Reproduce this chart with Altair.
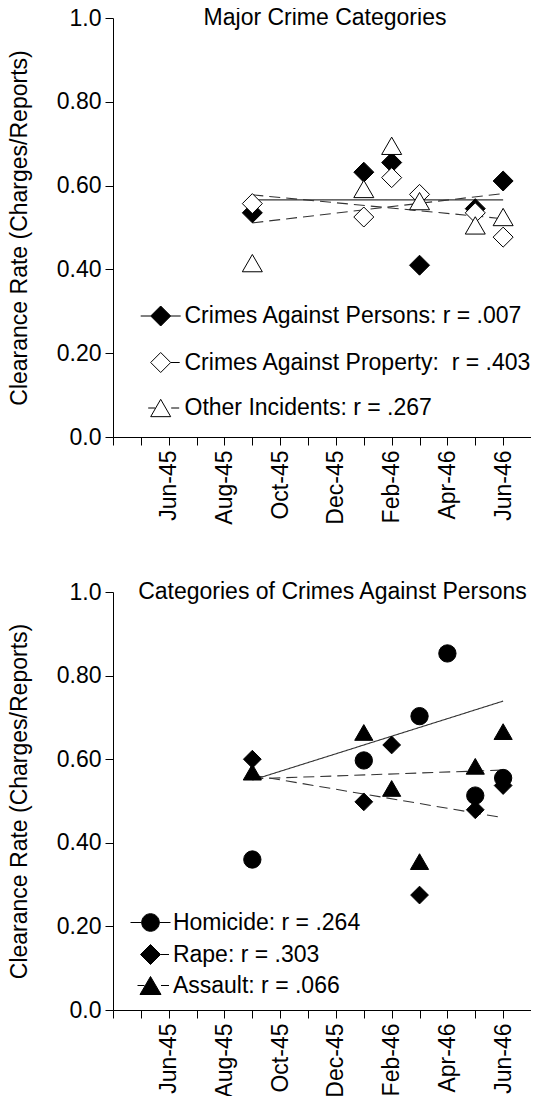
import altair as alt
import pandas as pd

FONT = "Liberation Sans"
FS = 23

# ---------------- axis categories ----------------
axis_months = ["Apr-45", "May-45", "Jun-45", "Jul-45", "Aug-45", "Sep-45", "Oct-45",
               "Nov-45", "Dec-45", "Jan-46", "Feb-46", "Mar-46", "Apr-46", "May-46",
               "Jun-46", "Jul-46"]
labeled_months = ["Jun-45", "Aug-45", "Oct-45", "Dec-45", "Feb-46", "Apr-46", "Jun-46"]
y_ticks = [0.0, 0.2, 0.4, 0.6, 0.8, 1.0]
fit_months = ["Sep-45", "Jun-46"]

# ---------------- top panel: Major Crime Categories ----------------
top_title = "Major Crime Categories"
top_labels = ["Crimes Against Persons: r = .007",
              "Crimes Against Property:\u00a0 r = .403",
              "Other Incidents: r = .267"]
top_months = ["Sep-45", "Jan-46", "Feb-46", "Mar-46", "May-46", "Jun-46"]
persons = [0.535, 0.632, 0.655, 0.410, 0.545, 0.611]
property_ = [0.557, 0.525, 0.619, 0.579, 0.535, 0.477]
other = [0.415, 0.592, 0.695, 0.563, 0.505, 0.525]
top_fit_start = [0.566, 0.578, 0.511]
top_fit_end = [0.566, 0.521, 0.581]

# ---------------- bottom panel: Categories of Crimes Against Persons ----------------
bot_title = "Categories of Crimes Against Persons"
bot_labels = ["Homicide: r = .264", "Rape: r = .303", "Assault: r = .066"]
homicide_months = ["Sep-45", "Jan-46", "Mar-46", "Apr-46", "May-46", "Jun-46"]
homicide = [0.360, 0.597, 0.703, 0.853, 0.513, 0.555]
rape_months = ["Sep-45", "Jan-46", "Feb-46", "Mar-46", "May-46", "Jun-46"]
rape = [0.600, 0.498, 0.634, 0.275, 0.479, 0.537]
assault_months = ["Sep-45", "Jan-46", "Feb-46", "Mar-46", "May-46", "Jun-46"]
assault = [0.569, 0.664, 0.530, 0.355, 0.583, 0.666]
bot_fit_start = [0.550, 0.562, 0.553]
bot_fit_end = [0.739, 0.460, 0.574]

# legend symbols (marker + piece of its trend line), unit = half the symbol width
top_legend_paths = [
    "M-2,0L-1,0M1,0L2,0M0,-1L1,0L0,1L-1,0Z",
    "M1,0L1.9,0M0,-1L1,0L0,1L-1,0Z",
    "M-1.25,0L-0.55,0M1.05,0L1.85,0M0,-0.866L1,0.866L-1,0.866Z",
]
bot_legend_paths = [
    "M-2,0L-0.88,0M0.88,0L2,0M0.88,0A0.88,0.88,0,1,1,-0.88,0A0.88,0.88,0,1,1,0.88,0Z",
    "M1,0L1.85,0M0,-1L1,0L0,1L-1,0Z",
    "M-1.3,0L-0.6,0M1.05,0L1.85,0M0,-0.9L1.05,0.9L-1.05,0.9Z",
]


def make_points(labels, months_list, values_list):
    rows = []
    for lab, ms, vs in zip(labels, months_list, values_list):
        for m, v in zip(ms, vs):
            rows.append({"series": lab, "month": m, "value": v})
    return pd.DataFrame(rows)


def make_fits(labels, starts, ends):
    rows = []
    for lab, s, e in zip(labels, starts, ends):
        rows.append({"series": lab, "month": fit_months[0], "value": s})
        rows.append({"series": lab, "month": fit_months[1], "value": e})
    return pd.DataFrame(rows)


label_list = ",".join("'%s'" % m for m in labeled_months)
x_axis = alt.Axis(title=None, labelAngle=-90, labelAlign="right", labelBaseline="middle",
                  labelOverlap=False,
                  labelExpr="indexof([%s], datum.value) >= 0 ? datum.value : ''" % label_list,
                  tickSize=8, labelPadding=5, grid=False)
y_axis = alt.Axis(title="Clearance Rate (Charges/Reports)", values=y_ticks,
                  labelExpr="datum.value == 0 ? '0.0' : datum.value == 1 ? '1.0' : format(datum.value, '.2f')",
                  tickSize=8, labelPadding=4, titlePadding=25, grid=False)


def panel(title, title_x, labels, months_list, values_list, fit_s, fit_e, shapes, fills,
          sizes, legend_paths, legend_x, legend_y, row_pad, label_offset, h):
    pts_df = make_points(labels, months_list, values_list)
    fit_df = make_fits(labels, fit_s, fit_e)
    x = alt.X("month:O", scale=alt.Scale(type="point", domain=axis_months, padding=0), axis=x_axis)
    y = alt.Y("value:Q", scale=alt.Scale(domain=[0, 1], nice=False), axis=y_axis)
    leg = alt.Legend(title=None, orient="none", legendX=legend_x, legendY=legend_y,
                     symbolSize=400, labelFontSize=FS, labelFont=FONT, labelColor="black",
                     labelLimit=700, rowPadding=row_pad, labelOffset=label_offset, padding=0,
                     symbolStrokeColor="black", symbolStrokeWidth=1)
    lines = alt.Chart(fit_df).mark_line(color="#333333", strokeWidth=1.1).encode(
        x=x, y=y, detail="series:N",
        strokeDash=alt.StrokeDash("series:N", scale=alt.Scale(domain=labels, range=[[1, 0], [11, 6], [11, 6]]),
                                  legend=None))
    pts = alt.Chart(pts_df).mark_point(filled=True, stroke="black", strokeWidth=1, opacity=1).encode(
        x=x, y=y,
        shape=alt.Shape("series:N", scale=alt.Scale(domain=labels, range=shapes), legend=None),
        fill=alt.Fill("series:N", scale=alt.Scale(domain=labels, range=fills), legend=None),
        size=alt.Size("series:O", scale=alt.Scale(domain=labels, range=sizes), legend=None))
    carrier = alt.Chart(pts_df).transform_filter("false").mark_point(
        filled=True, strokeWidth=1, opacity=1).encode(
        x=x, y=y,
        shape=alt.Shape("series:N", scale=alt.Scale(domain=labels, range=legend_paths), legend=leg),
        fill=alt.Fill("series:N", scale=alt.Scale(domain=labels, range=fills), legend=leg),
        stroke=alt.Stroke("series:N", scale=alt.Scale(domain=labels, range=["black", "black", "black"]),
                          legend=leg))
    head = alt.Chart(pd.DataFrame({"title": [title]})).mark_text(
        font=FONT, fontSize=FS, align="center", baseline="alphabetic", color="black"
    ).encode(text="title:N", x=alt.value(title_x), y=alt.value(7))
    return alt.layer(lines, pts, carrier, head).resolve_scale(
        shape="independent", fill="independent", size="independent",
        strokeDash="independent", stroke="independent"
    ).properties(width=418, height=h)


top = panel(top_title, 212, top_labels, [top_months, top_months, top_months],
            [persons, property_, other], top_fit_start, top_fit_end,
            ["diamond", "diamond", "triangle-up"], ["black", "white", "white"],
            [400, 400, 400], top_legend_paths, 36.2, 286.5, 21.5, 12.3, 419)
bottom = panel(bot_title, 219.5, bot_labels, [homicide_months, rape_months, assault_months],
               [homicide, rape, assault], bot_fit_start, bot_fit_end,
               ["circle", "diamond", "triangle-up"], ["black", "black", "black"],
               [300, 330, 361], bot_legend_paths, 26, 319, 7, 10.9, 418)

chart = alt.vconcat(top, bottom, spacing=56).properties(
    padding={"left": 0, "top": -1, "right": -12, "bottom": -2}
).configure_view(stroke=None).configure_axis(
    labelFont=FONT, titleFont=FONT, labelFontSize=FS, titleFontSize=FS,
    titleFontWeight="normal", labelColor="black", titleColor="black",
    domainColor="black", tickColor="black", domainWidth=1, tickWidth=1, grid=False
)

chart.save("out.html", embed_options={"renderer": "svg", "actions": False})
